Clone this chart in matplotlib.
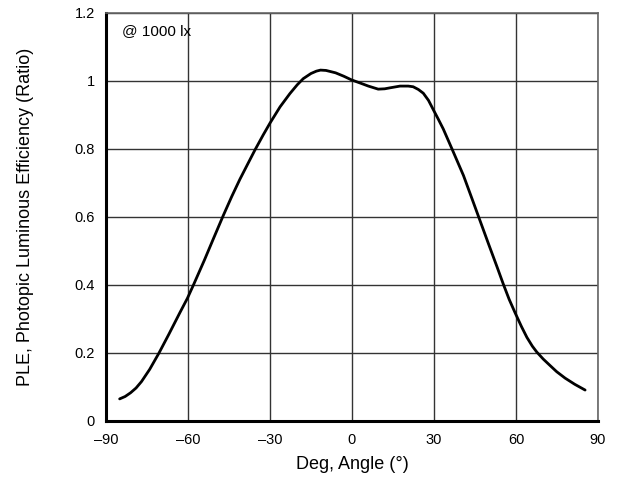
import numpy as np
import matplotlib.pyplot as plt

plt.rcParams['font.family'] = ['Liberation Sans', 'DejaVu Sans']

# values
unghi = [-85, -83, -81, -79, -77, -74, -70.6, -67, -63, -60.2, -58, -54, -50.7,
         -47.1, -44, -41, -38, -35.5, -32.5, -30, -26.3, -22.7, -20, -17.8, -15,
         -13, -11.5, -9.5, -6, -3, -0.1, 3, 6, 9.6, 12, 14, 17.6, 20.6, 22.4,
         24.3, 26.1, 28, 29.8, 31.5, 33.4, 36.5, 40.8, 44, 47, 50, 53, 55.4,
         57.5, 59.7, 62, 64, 66, 67.6, 70, 72.5, 74.9, 78, 81.5, 85.3]
ple = [0.065, 0.072, 0.083, 0.097, 0.116, 0.152, 0.200, 0.255, 0.318, 0.361,
       0.400, 0.473, 0.536, 0.604, 0.660, 0.711, 0.758, 0.797, 0.841, 0.876,
       0.924, 0.963, 0.989, 1.007, 1.022, 1.029, 1.032, 1.031, 1.024, 1.014,
       1.003, 0.994, 0.985, 0.976, 0.977, 0.980, 0.985, 0.985, 0.983, 0.975,
       0.964, 0.943, 0.915, 0.889, 0.859, 0.802, 0.722, 0.652, 0.586, 0.520,
       0.455, 0.402, 0.358, 0.318, 0.278, 0.246, 0.220, 0.203, 0.182, 0.163,
       0.145, 0.126, 0.108, 0.091]

xticks = [-90, -60, -30, 0, 30, 60, 90]
xlabels = ['\u201390', '\u201360', '\u201330', '0', '30', '60', '90']
yticks = [0, 0.2, 0.4, 0.6, 0.8, 1, 1.2]
ylabels = ['0', '0.2', '0.4', '0.6', '0.8', '1', '1.2']

fig = plt.figure(figsize=(6.19, 4.88), dpi=100)
ax = fig.add_axes([0.1712, 0.1373, 0.7948, 0.8361])

ax.plot(unghi, ple, color='black', lw=2, solid_joinstyle='round', solid_capstyle='round', zorder=3)

ax.set_xlim(-90, 90)
ax.set_ylim(0, 1.2)
ax.set_xticks(xticks)
ax.set_xticklabels(xlabels)
ax.set_yticks(yticks)
ax.set_yticklabels(ylabels)
ax.tick_params(length=0, labelsize=10.5, pad=8)
ax.tick_params(axis='x', pad=9)
ax.grid(True, color='#333333', lw=1)

for s in ['top', 'right']:
    ax.spines[s].set_color('#666666')
    ax.spines[s].set_linewidth(1.2)
for s in ['left', 'bottom']:
    ax.spines[s].set_color('black')
    ax.spines[s].set_linewidth(2.2)

ax.text(-84.2, 1.148, '@ 1000 lx', fontsize=11, va='center', ha='left')

ax.set_xlabel('Deg, Angle (\u00b0)', fontsize=13, labelpad=6)
ax.set_ylabel('PLE, Photopic Luminous Efficiency (Ratio)', fontsize=13, labelpad=29)

plt.savefig('out.png', dpi=100)
